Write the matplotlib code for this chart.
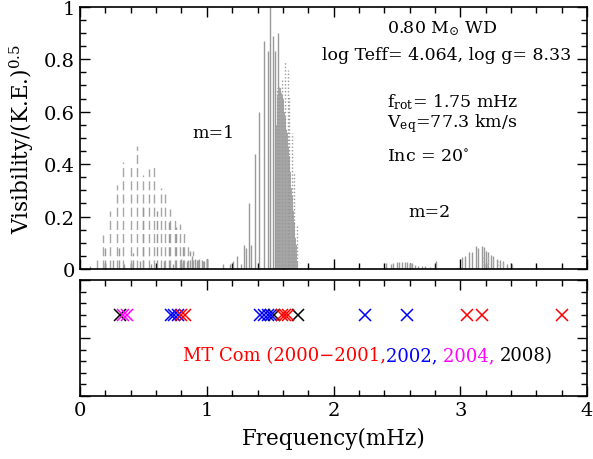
import numpy as np
import matplotlib
matplotlib.use("Agg")
import matplotlib.pyplot as plt
from matplotlib.ticker import MultipleLocator, FormatStrFormatter

# m=1 low-frequency modes (dashed, light gray)
m1_dash_f = [0.13, 0.18, 0.24, 0.29, 0.34, 0.40, 0.45, 0.50, 0.54, 0.58,
             0.64, 0.67, 0.71, 0.75, 0.79, 0.82, 0.85, 0.89, 0.93, 0.97]
m1_dash_h = [0.04, 0.13, 0.22, 0.32, 0.41, 0.39, 0.47, 0.36, 0.38, 0.40,
             0.31, 0.29, 0.23, 0.19, 0.17, 0.14, 0.10, 0.07, 0.05, 0.03]
# secondary low-frequency modes (dashed)
m1_dash2_f = [0.20, 0.26, 0.31, 0.42, 0.50, 0.61, 0.70, 0.76, 0.81, 0.87, 0.92, 0.96]
m1_dash2_h = [0.08, 0.05, 0.08, 0.06, 0.25, 0.22, 0.18, 0.16, 0.10, 0.07, 0.05, 0.04]
# small baseline modes
m1_small_f = [0.08, 0.35, 0.47, 0.56, 0.66, 0.73, 0.80, 0.84, 0.88, 0.91, 0.94, 0.98, 1.00,
              1.13, 1.18, 1.21, 1.24, 1.27, 1.31, 1.35]
m1_small_h = [0.01, 0.02, 0.03, 0.02, 0.03, 0.02, 0.04, 0.03, 0.05, 0.04, 0.04, 0.03, 0.04,
              0.02, 0.02, 0.03, 0.05, 0.02, 0.08, 0.09]
# m=1 main peak (solid)
m1_solid_f = [1.29, 1.33, 1.38, 1.41, 1.45, 1.48, 1.50, 1.52, 1.54, 1.56]
m1_solid_h = [0.09, 0.25, 0.44, 0.60, 0.87, 0.83, 1.00, 0.89, 0.83, 0.90]
# dense solid cluster after the peak
m1_dense_f = [1.55, 1.56, 1.57, 1.575, 1.58, 1.585, 1.59, 1.595, 1.60, 1.605, 1.61, 1.615,
              1.62, 1.625, 1.63, 1.635, 1.64, 1.645, 1.65, 1.655, 1.66, 1.665, 1.67, 1.675,
              1.68, 1.685, 1.69, 1.695, 1.70, 1.705, 1.71]
m1_dense_h = [0.55, 0.66, 0.69, 0.68, 0.69, 0.67, 0.66, 0.65, 0.65, 0.63, 0.60, 0.58,
              0.56, 0.53, 0.52, 0.49, 0.46, 0.43, 0.40, 0.37, 0.34, 0.31, 0.28, 0.25,
              0.22, 0.18, 0.15, 0.12, 0.09, 0.06, 0.03]
# dotted series
m1_dot_f = [1.55, 1.57, 1.59, 1.62, 1.64, 1.65, 1.67, 1.69, 1.71]
m1_dot_h = [0.69, 0.70, 0.72, 0.79, 0.76, 0.66, 0.52, 0.37, 0.17]

# m=2 modes
m2_a_f = [2.41, 2.45, 2.47, 2.50, 2.52, 2.54, 2.56, 2.58, 2.60, 2.62, 2.64, 2.67, 2.70,
          2.72, 2.76, 2.81]
m2_a_h = [0.023, 0.020, 0.022, 0.028, 0.027, 0.027, 0.026, 0.025, 0.024, 0.022, 0.015,
          0.013, 0.012, 0.010, 0.008, 0.030]
m2_b_f = [3.01, 3.04, 3.07, 3.09, 3.12, 3.14, 3.17, 3.19, 3.20, 3.22, 3.24, 3.26, 3.29,
          3.31, 3.34, 3.37, 3.41]
m2_b_h = [0.045, 0.050, 0.065, 0.065, 0.088, 0.080, 0.088, 0.085, 0.070, 0.065, 0.055,
          0.050, 0.040, 0.035, 0.030, 0.020, 0.020]
m2_dot_f = [3.18, 3.22, 3.26, 3.30, 3.34, 3.38]
m2_dot_h = [0.05, 0.045, 0.04, 0.03, 0.02, 0.012]

# observed frequencies (lower panel)
obs_red = [0.80, 0.83, 1.59, 1.62, 1.64, 3.05, 3.17, 3.80]
obs_blue = [0.72, 0.74, 0.77, 1.42, 1.45, 1.48, 1.51, 2.25, 2.58]
obs_magenta = [0.34, 0.37]
obs_black = [0.316, 1.53, 1.72]

plt.rcParams['font.family'] = 'DejaVu Serif'
plt.rcParams['mathtext.fontset'] = 'dejavuserif'

fig = plt.figure(figsize=(5.93, 4.6), dpi=100)
ax = fig.add_axes([0.135, 0.413, 0.855, 0.570])
ax2 = fig.add_axes([0.135, 0.137, 0.855, 0.252])

gray = '0.6'
ax.vlines(m1_dash_f, 0, m1_dash_h, colors='0.65', linestyles=(0, (6.5, 3)), lw=1.0)
ax.vlines(m1_dash2_f, 0, m1_dash2_h, colors='0.6', linestyles=(0, (6.5, 3)), lw=1.0)
ax.vlines(m1_small_f, 0, m1_small_h, colors=gray, lw=1.0)
ax.vlines(m1_solid_f, 0, m1_solid_h, colors=gray, lw=1.0)
ax.vlines(m1_dense_f, 0, m1_dense_h, colors='0.65', lw=1.4)
ax.vlines(m1_dot_f, 0, m1_dot_h, colors='0.6', linestyles=(0, (1, 1.5)), lw=1.0)
ax.vlines(m2_a_f, 0, m2_a_h, colors=gray, lw=1.0)
ax.vlines(m2_b_f, 0, m2_b_h, colors=gray, lw=1.0)
ax.vlines(m2_dot_f, 0, m2_dot_h, colors='0.7', linestyles=(0, (1, 1.5)), lw=1.0)

ax.set_xlim(0, 4)
ax.set_ylim(0, 1)
ax.set_ylabel('Visibility/(K.E.)$^{0.5}$', fontsize=15.5, labelpad=6)
ax.xaxis.set_major_locator(MultipleLocator(1))
ax.xaxis.set_minor_locator(MultipleLocator(0.2))
ax.yaxis.set_major_locator(MultipleLocator(0.2))
ax.yaxis.set_minor_locator(MultipleLocator(0.05))
ax.yaxis.set_major_formatter(FormatStrFormatter('%g'))
ax.tick_params(labelbottom=False)

txt = dict(fontsize=12.5, color='black')
ax.text(2.42, 0.92, '0.80 M$_{\\odot}$ WD', va='center', **txt)
ax.text(1.91, 0.82, 'log Teff= 4.064, log g= 8.33', va='center', **txt)
ax.text(2.42, 0.64, 'f$_{\\rm rot}$= 1.75 mHz', va='center', **txt)
ax.text(2.42, 0.56, 'V$_{\\rm eq}$=77.3 km/s', va='center', **txt)
ax.text(2.42, 0.43, 'Inc = 20$^{\\circ}$', va='center', **txt)
ax.text(1.05, 0.52, 'm=1', ha='center', va='center', **txt)
ax.text(2.76, 0.22, 'm=2', ha='center', va='center', **txt)

ms = 9
ax2.plot(obs_black, [0.7] * len(obs_black), 'x', color='black', ms=ms, mew=1.1)
ax2.plot(obs_magenta, [0.7] * len(obs_magenta), 'x', color='magenta', ms=ms, mew=1.1)
ax2.plot(obs_blue, [0.7] * len(obs_blue), 'x', color='blue', ms=ms, mew=1.1)
ax2.plot(obs_red, [0.7] * len(obs_red), 'x', color='red', ms=ms, mew=1.1)
ax2.set_xlim(0, 4)
ax2.set_ylim(0, 1)
ax2.xaxis.set_major_locator(MultipleLocator(1))
ax2.xaxis.set_minor_locator(MultipleLocator(0.2))
ax2.yaxis.set_major_locator(MultipleLocator(0.5))
ax2.yaxis.set_minor_locator(MultipleLocator(0.1))
ax2.xaxis.set_major_formatter(FormatStrFormatter('%g'))
ax2.tick_params(labelleft=False)
ax2.set_xlabel('Frequency(mHz)', fontsize=15.5, labelpad=6)

# multicolour legend text
parts = [('MT Com (2000\u22122001,', 'red'), ('2002, ', 'blue'),
         ('2004, ', 'magenta'), ('2008)', 'black')]
fig.canvas.draw()
x0 = 0.81
renderer = fig.canvas.get_renderer()
for s, c in parts:
    t = ax2.text(x0, 0.35, s, color=c, fontsize=13, va='center')
    bb = t.get_window_extent(renderer=renderer)
    inv = ax2.transData.inverted()
    x0 = inv.transform((bb.x1, bb.y0))[0]

for a in (ax, ax2):
    a.tick_params(which='both', direction='in', top=True, right=True, labelsize=14)
    a.tick_params(which='major', length=7, width=1)
    a.tick_params(which='minor', length=4, width=1)
    for sp in a.spines.values():
        sp.set_linewidth(1.2)

fig.savefig('out.png', dpi=100)
